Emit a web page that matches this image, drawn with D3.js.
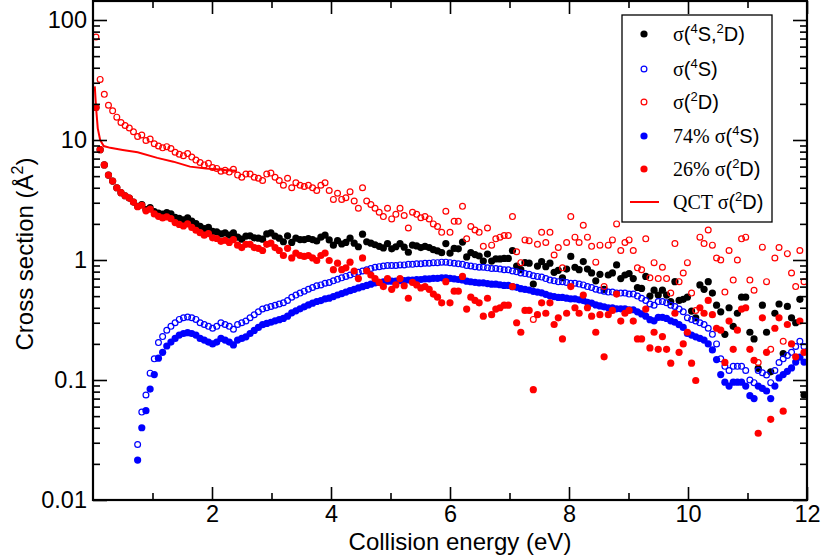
<!DOCTYPE html>
<html><head><meta charset="utf-8">
<script src="https://cdn.jsdelivr.net/npm/d3@7"></script>
<style>body{margin:0;background:#fff}svg{display:block}</style>
</head><body>
<svg id="c" width="821" height="559"></svg>
<script>
// ---------------- data ----------------
const energy = [0.05,0.12,0.19,0.26,0.33,0.40,0.47,0.54,0.61,0.68,
0.75,0.82,0.89,0.96,1.03,1.10,1.17,1.24,1.31,1.38,
1.45,1.52,1.59,1.66,1.73,1.80,1.87,1.94,2.01,2.08,
2.15,2.22,2.29,2.36,2.43,2.50,2.57,2.64,2.71,2.78,
2.85,2.92,2.99,3.06,3.13,3.20,3.27,3.34,3.41,3.48,
3.55,3.62,3.69,3.76,3.83,3.90,3.97,4.04,4.11,4.18,
4.25,4.32,4.39,4.46,4.53,4.60,4.67,4.74,4.81,4.88,
4.95,5.02,5.09,5.16,5.23,5.30,5.37,5.44,5.51,5.58,
5.65,5.72,5.79,5.86,5.93,6.00,6.07,6.14,6.21,6.28,
6.35,6.42,6.49,6.56,6.63,6.70,6.77,6.84,6.91,6.98,
7.05,7.12,7.19,7.26,7.33,7.40,7.47,7.54,7.61,7.68,
7.75,7.82,7.89,7.96,8.03,8.10,8.17,8.24,8.31,8.38,
8.45,8.52,8.59,8.66,8.73,8.80,8.87,8.94,9.01,9.08,
9.15,9.22,9.29,9.36,9.43,9.50,9.57,9.64,9.71,9.78,
9.85,9.92,9.99,10.06,10.13,10.20,10.27,10.34,10.41,10.48,
10.55,10.62,10.69,10.76,10.83,10.90,10.97,11.04,11.11,11.18,
11.25,11.32,11.39,11.46,11.53,11.60,11.67,11.74,11.81,11.88,
11.95];

// sigma(4S,2D) total
const sigmaTotal = [18.7,8.3,6.2,5.1,4.55,4.0,3.64,3.43,3.28,3.04,
2.80,2.90,2.63,2.73,2.53,2.46,2.41,2.48,2.42,2.27,
2.22,2.16,2.25,2.11,2.01,1.91,1.83,1.87,1.73,1.72,
1.65,1.68,1.61,1.68,1.55,1.49,1.58,1.59,1.53,1.52,
1.49,1.65,1.68,1.58,1.52,1.42,1.59,1.40,1.52,1.48,
1.48,1.51,1.48,1.44,1.55,1.61,1.47,1.33,1.45,1.36,
1.40,1.52,1.38,1.29,1.64,1.42,1.38,1.34,1.30,1.26,
1.37,1.24,1.29,1.37,1.28,1.16,1.33,1.31,1.27,1.30,
1.27,1.22,1.19,1.15,1.37,1.14,1.25,1.24,1.41,1.06,
1.15,1.11,1.08,0.98,1.12,0.98,1.02,1.02,1.03,1.03,
1.20,0.89,0.83,0.95,0.94,0.63,0.89,0.97,0.88,0.94,
0.79,0.82,0.71,0.84,1.07,0.87,0.83,0.97,0.84,0.78,
0.67,0.76,0.57,0.75,0.78,0.91,0.70,0.75,0.77,0.70,
0.59,0.58,0.73,0.50,0.56,0.51,0.56,0.51,0.45,0.66,
0.46,0.47,0.49,0.375,0.33,0.62,0.57,0.66,0.53,0.42,
0.37,0.24,0.40,0.28,0.36,0.49,0.49,0.25,0.22,0.125,
0.42,0.25,0.117,0.36,0.43,0.166,0.41,0.33,0.30,0.47,
0.075];

// sigma(4S)
const sigma4S = [null,null,null,null,null,null,null,null,null,null,
0.029,0.054,0.075,0.114,0.15,0.205,0.23,0.26,0.28,0.30,
0.32,0.33,0.335,0.33,0.32,0.30,0.29,0.28,0.27,0.28,
0.30,0.29,0.28,0.265,0.29,0.30,0.31,0.33,0.35,0.37,
0.39,0.40,0.41,0.42,0.43,0.44,0.46,0.49,0.51,0.53,
0.55,0.57,0.59,0.61,0.62,0.64,0.65,0.67,0.69,0.71,
0.73,0.75,0.77,0.79,0.81,0.83,0.85,0.87,0.88,0.89,
0.90,0.90,0.90,0.91,0.91,0.92,0.92,0.93,0.93,0.94,
0.94,0.95,0.95,0.96,0.96,0.95,0.94,0.93,0.92,0.90,
0.89,0.88,0.87,0.87,0.86,0.85,0.85,0.84,0.83,0.83,
0.81,0.80,0.78,0.77,0.76,0.74,0.73,0.72,0.70,0.68,
0.67,0.66,0.66,0.65,0.64,0.64,0.63,0.62,0.60,0.59,
0.57,0.56,0.55,0.54,0.54,0.53,0.53,0.53,0.52,0.52,
0.50,0.48,0.46,0.43,0.42,0.45,0.45,0.44,0.42,0.41,
0.39,0.37,0.33,0.32,0.31,0.30,0.29,0.27,0.24,0.20,
0.15,0.13,0.12,0.13,0.13,0.13,0.12,0.10,0.095,0.12,
0.115,0.11,0.095,0.12,0.14,0.15,0.16,0.17,0.19,0.21,
0.19];

// sigma(2D)
const sigma2D = [72,32,24,19.5,17.5,15.5,14,13.2,12.6,11.7,
10.7,11.0,9.9,10.2,9.3,8.9,8.6,8.8,8.5,7.9,
7.6,7.4,7.7,7.2,6.8,6.5,6.2,6.4,5.9,5.8,
5.5,5.6,5.4,5.7,5.1,4.9,5.2,5.2,4.9,4.8,
4.6,5.2,5.3,4.9,4.6,4.2,4.8,4.0,4.4,4.2,
4.1,4.2,4.0,3.8,4.2,4.4,3.8,3.2,3.6,3.2,
3.3,3.7,3.1,2.7,4.0,3.1,2.9,2.7,2.5,2.3,
2.7,2.2,2.4,2.7,2.35,1.85,2.5,2.4,2.25,2.3,
2.2,2.0,1.9,1.7,2.55,1.7,2.1,2.1,2.8,1.5,
1.9,1.78,1.7,1.3,1.85,1.33,1.5,1.55,1.6,1.6,
2.3,1.17,0.95,1.47,1.45,0.32,1.35,1.7,1.4,1.7,
1.1,1.27,0.86,1.4,2.3,1.55,1.4,1.95,1.55,1.3,
0.96,1.33,0.6,1.33,1.47,2.0,1.2,1.4,1.47,1.2,
0.86,0.83,1.5,0.71,0.95,0.7,0.87,0.7,0.53,1.37,
0.66,0.78,0.95,0.53,0.38,1.55,1.37,1.78,1.33,1.04,
1.0,0.54,1.2,0.68,1.0,1.5,1.55,0.68,0.56,0.14,
1.28,0.66,0.18,1.04,1.27,0.21,1.13,0.78,0.6,1.2,
0.66];

// 74% sigma(4S)
const sigma4S74 = [null,null,null,null,null,null,null,null,null,null,
0.0215,0.040,0.0555,0.084,0.111,0.152,0.170,0.192,0.207,0.222,
0.237,0.244,0.248,0.244,0.237,0.222,0.215,0.207,0.200,0.207,
0.222,0.215,0.207,0.196,0.215,0.222,0.229,0.244,0.259,0.274,
0.289,0.296,0.303,0.311,0.318,0.326,0.340,0.363,0.377,0.392,
0.407,0.422,0.437,0.451,0.459,0.474,0.481,0.496,0.511,0.525,
0.540,0.555,0.570,0.585,0.599,0.614,0.629,0.644,0.651,0.659,
0.666,0.666,0.666,0.673,0.673,0.681,0.681,0.688,0.688,0.696,
0.696,0.703,0.703,0.710,0.710,0.703,0.696,0.688,0.681,0.666,
0.659,0.651,0.644,0.644,0.636,0.629,0.629,0.622,0.614,0.614,
0.599,0.592,0.577,0.570,0.562,0.548,0.540,0.533,0.518,0.503,
0.496,0.488,0.488,0.481,0.474,0.474,0.466,0.459,0.444,0.437,
0.422,0.414,0.407,0.400,0.400,0.392,0.392,0.392,0.385,0.385,
0.370,0.355,0.340,0.318,0.311,0.333,0.333,0.326,0.311,0.303,
0.289,0.274,0.244,0.237,0.229,0.222,0.215,0.200,0.178,0.148,
0.111,0.096,0.089,0.096,0.096,0.096,0.089,0.074,0.070,0.089,
0.085,0.081,0.070,0.089,0.104,0.111,0.118,0.126,0.141,0.155,
0.141];

// 26% sigma(2D)
const sigma2D26 = [18.7,8.3,6.2,5.1,4.55,4.0,3.64,3.43,3.28,3.04,
2.78,2.86,2.57,2.65,2.42,2.31,2.24,2.29,2.21,2.05,
1.98,1.92,2.0,1.87,1.77,1.69,1.61,1.66,1.53,1.51,
1.43,1.46,1.40,1.48,1.33,1.27,1.35,1.35,1.27,1.25,
1.20,1.35,1.38,1.27,1.20,1.09,1.25,1.04,1.14,1.09,
1.07,1.09,1.04,0.99,1.09,1.14,0.99,0.83,0.94,0.83,
0.86,0.96,0.81,0.70,1.04,0.81,0.75,0.70,0.65,0.60,
0.70,0.57,0.62,0.70,0.61,0.48,0.65,0.62,0.585,0.60,
0.57,0.52,0.49,0.44,0.66,0.44,0.55,0.55,0.73,0.39,
0.49,0.46,0.44,0.34,0.48,0.35,0.39,0.40,0.42,0.42,
0.60,0.30,0.25,0.38,0.38,0.083,0.35,0.44,0.36,0.44,
0.29,0.33,0.22,0.36,0.60,0.40,0.36,0.51,0.40,0.34,
0.25,0.35,0.156,0.35,0.38,0.52,0.31,0.36,0.38,0.31,
0.22,0.22,0.39,0.185,0.25,0.18,0.23,0.18,0.138,0.36,
0.17,0.20,0.25,0.138,0.099,0.40,0.36,0.46,0.35,0.27,
0.26,0.14,0.31,0.18,0.26,0.39,0.40,0.18,0.146,0.036,
0.33,0.17,0.047,0.27,0.33,0.055,0.29,0.20,0.156,0.31,
0.17];

// QCT sigma(2D) curve
const qctEnergy = [0.03,0.05,0.08,0.12,0.18,0.29,0.50,0.75,1.08,1.35,1.63,1.90,2.08,2.25,2.42];
const qctSigma  = [28,19,12.5,10,8.9,8.6,8.25,7.9,7.1,6.6,6.0,5.8,5.7,5.6,5.55];

const xTicks = [2,4,6,8,10,12];
const xMinorTicks = [1,3,5,7,9,11];
const yTicks = [0.01,0.1,1,10,100];
const yTickLabels = ["0.01","0.1","1","10","100"];
const yMinorTicks = [0.02,0.03,0.04,0.05,0.06,0.07,0.08,0.09,0.2,0.3,0.4,0.5,0.6,0.7,0.8,0.9,
  2,3,4,5,6,7,8,9,20,30,40,50,60,70,80,90];

const xTitle = "Collision energy (eV)";

// ---------------- drawing ----------------
const SANS = "'Liberation Sans', Arial, Helvetica, sans-serif";
const SERIF = "'Liberation Serif', 'Times New Roman', serif";
const svg = d3.select("#c");
const x = d3.scaleLinear().domain([0,12]).range([93,807]);
const y = d3.scaleLog().domain([0.01,100]).range([500,20]);
const yMax = 144;
const pTop = y(yMax), pBottom = y(0.01), pLeft = x(0), pRight = x(12);

const RED = "#ff0000", BLUE = "#0000ff", BLACK = "#000000";

function pts(vals){ return energy.map((e,i)=>({e, v: vals[i]})).filter(d=>d.v!=null); }
const plot = svg.append("g");

function filled(vals, color){
  plot.append("g").selectAll("circle").data(pts(vals)).join("circle")
    .attr("cx",d=>x(d.e)).attr("cy",d=>y(d.v)).attr("r",3.6).attr("fill",color);
}
function openPts(vals, color){
  plot.append("g").selectAll("circle").data(pts(vals)).join("circle")
    .attr("cx",d=>x(d.e)).attr("cy",d=>y(d.v)).attr("r",2.9)
    .attr("fill","none").attr("stroke",color).attr("stroke-width",1.2);
}
filled(sigmaTotal, BLACK);
openPts(sigma4S, BLUE);
openPts(sigma2D, RED);
filled(sigma4S74, BLUE);
filled(sigma2D26, RED);
plot.append("path").datum(qctEnergy.map((e,i)=>[e,qctSigma[i]]))
  .attr("d", d3.line().x(d=>x(d[0])).y(d=>y(d[1])))
  .attr("fill","none").attr("stroke",RED).attr("stroke-width",2);

// axes
function styleAxis(g){
  g.select(".domain").remove();
  g.selectAll("line").attr("stroke","#000").attr("stroke-width",1.6);
  g.selectAll("text").attr("font-family",SANS).attr("font-size",23.5).attr("fill","#000");
}
svg.append("g").attr("transform",`translate(0,${pBottom})`)
  .call(d3.axisBottom(x).tickValues(xTicks).tickSize(-13).tickPadding(5).tickFormat(d3.format("d"))).call(styleAxis);
svg.append("g").attr("transform",`translate(0,${pBottom})`)
  .call(d3.axisBottom(x).tickValues(xMinorTicks).tickSize(-7).tickFormat("")).call(styleAxis);
svg.append("g").attr("transform",`translate(0,${pTop})`)
  .call(d3.axisTop(x).tickValues(xTicks).tickSize(-13).tickFormat("")).call(styleAxis);
svg.append("g").attr("transform",`translate(0,${pTop})`)
  .call(d3.axisTop(x).tickValues(xMinorTicks).tickSize(-7).tickFormat("")).call(styleAxis);
svg.append("g").attr("transform",`translate(${pLeft},0)`)
  .call(d3.axisLeft(y).tickValues(yTicks).tickSize(-14).tickPadding(6).tickFormat((d,i)=>yTickLabels[i])).call(styleAxis);
svg.append("g").attr("transform",`translate(${pLeft},0)`)
  .call(d3.axisLeft(y).tickValues(yMinorTicks).tickSize(-7).tickFormat("")).call(styleAxis);
svg.append("g").attr("transform",`translate(${pRight},0)`)
  .call(d3.axisRight(y).tickValues(yTicks).tickSize(-14).tickFormat("")).call(styleAxis);
svg.append("g").attr("transform",`translate(${pRight},0)`)
  .call(d3.axisRight(y).tickValues(yMinorTicks).tickSize(-7).tickFormat("")).call(styleAxis);

svg.append("rect").attr("x",pLeft).attr("y",pTop).attr("width",pRight-pLeft).attr("height",pBottom-pTop)
  .attr("fill","none").attr("stroke","#000").attr("stroke-width",2.2);

// rich text helper: parts [text, kind] kind: "sans" | "serif" | "sup"
function rich(textSel, parts, supSize, supRise){
  let raised = false;
  parts.forEach(([t,k])=>{
    const ts = textSel.append("tspan").text(t);
    if(k==="sup"){ ts.attr("font-size",supSize).attr("font-family",SANS); if(!raised){ts.attr("dy",-supRise); raised=true;} }
    else { ts.attr("font-family", k==="serif"?SERIF:SANS); if(raised){ts.attr("dy",supRise); raised=false;} }
  });
}

// axis titles
const yt = svg.append("text").attr("transform","translate(33,254) rotate(-90)")
  .attr("text-anchor","middle").attr("font-size",24).attr("font-family",SANS);
rich(yt, [["Cross section (Å","sans"],["2","sup"],[")","sans"]], 16, 10);
svg.append("text").attr("x",460).attr("y",550).attr("text-anchor","middle")
  .attr("font-size",24).attr("font-family",SANS).text(xTitle);

// legend
const leg = svg.append("g");
leg.append("rect").attr("x",622).attr("y",15).attr("width",150).attr("height",207)
  .attr("fill","#fff").attr("stroke","#000").attr("stroke-width",1.3);
const legendItems = [
  {type:"filled", color:BLACK, parts:[["σ","serif"],["(","sans"],["4","sup"],["S,","sans"],["2","sup"],["D)","sans"]]},
  {type:"open", color:BLUE, parts:[["σ","serif"],["(","sans"],["4","sup"],["S)","sans"]]},
  {type:"open", color:RED, parts:[["σ","serif"],["(","sans"],["2","sup"],["D)","sans"]]},
  {type:"filled", color:BLUE, parts:[["74% σ","serif"],["(","sans"],["4","sup"],["S)","sans"]]},
  {type:"filled", color:RED, parts:[["26% σ","serif"],["(","sans"],["2","sup"],["D)","sans"]]},
  {type:"line", color:RED, parts:[["QCT σ","serif"],["(","sans"],["2","sup"],["D)","sans"]]}
];
const rowY = [34,69,102,136,169,202];
legendItems.forEach((it,i)=>{
  const cy = rowY[i];
  if(it.type==="filled") leg.append("circle").attr("cx",644).attr("cy",cy).attr("r",3.6).attr("fill",it.color);
  else if(it.type==="open") leg.append("circle").attr("cx",644).attr("cy",cy).attr("r",2.9).attr("fill","none").attr("stroke",it.color).attr("stroke-width",1.2);
  else leg.append("line").attr("x1",630).attr("x2",659).attr("y1",cy).attr("y2",cy).attr("stroke",it.color).attr("stroke-width",2);
  const t = leg.append("text").attr("x",673).attr("y",cy+7).attr("font-size",20).attr("font-family",SANS);
  rich(t, it.parts, 13, 8);
});
</script>
</body></html>
